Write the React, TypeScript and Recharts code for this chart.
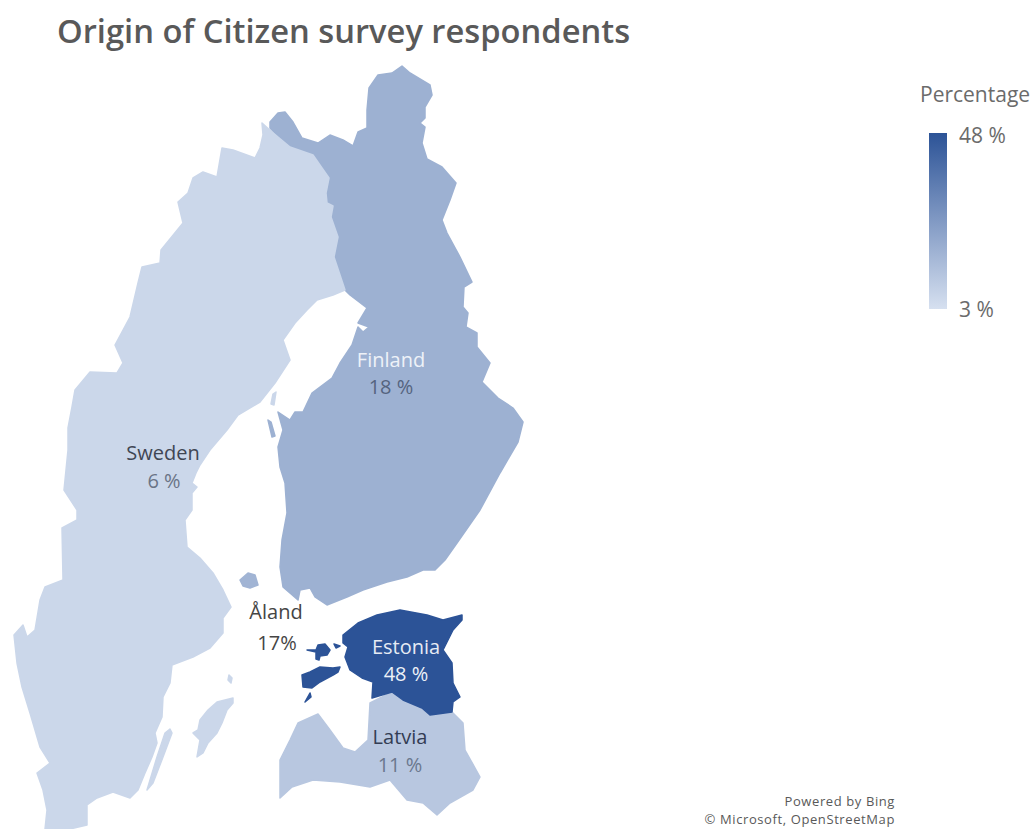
import { ComposedChart, ReferenceArea, Scatter, XAxis, YAxis } from 'recharts'

type Ring = [number, number][]

const WIDTH = 1034
const HEIGHT = 829

// Share of respondents per region, in percent
const swedenShare = 6
const finlandShare = 18
const alandShare = 17
const estoniaShare = 48
const latviaShare = 11
const scaleMin = 3
const scaleMax = 48

const swedenMain: Ring = [
  [262, 123], [272, 132], [290, 147], [313, 155], [322, 168], [329, 178], [326, 193], [327, 203], [333, 206],
  [331, 217], [338, 237], [334, 257], [345, 290], [333, 295], [317, 300], [307, 310], [295, 323], [283, 340],
  [290, 360], [275, 383], [260, 402], [238, 415], [227, 430], [210, 450], [200, 465], [196, 473], [192, 483],
  [197, 487], [192, 493], [192, 510], [185, 520], [187, 547], [200, 558], [213, 573], [223, 590], [231, 607],
  [223, 618], [223, 633], [210, 648], [193, 657], [172, 665], [170, 683], [163, 697], [162, 717], [155, 733],
  [157, 743], [152, 757], [145, 773], [138, 790], [130, 798], [113, 792], [97, 798], [87, 805], [87, 825],
  [70, 829], [45, 829], [47, 810], [43, 790], [37, 773], [50, 763], [40, 747], [30, 713], [22, 687], [17, 663],
  [14, 635], [23, 625], [27, 637], [35, 630], [40, 600], [45, 587], [63, 580], [62, 528], [77, 520], [77, 510],
  [64, 490], [68, 450], [68, 428], [72, 407], [75, 390], [90, 372], [117, 373], [123, 363], [115, 345],
  [130, 317], [138, 283], [142, 267], [160, 263], [161, 250], [183, 223], [178, 202], [188, 193], [193, 178],
  [203, 172], [217, 177], [222, 148], [233, 150], [255, 158], [260, 148], [263, 135],
]
const gotland: Ring = [
  [233, 698], [217, 702], [208, 710], [200, 720], [198, 730], [193, 733], [200, 740], [197, 757], [203, 753],
  [208, 743], [217, 733], [222, 723], [227, 710], [233, 703],
]
const oland: Ring = [[170, 729], [165, 733], [157, 757], [147, 790], [153, 783], [163, 757], [172, 733]]
const gotskaSandon: Ring = [[229, 675], [232, 678], [231, 683], [228, 680]]
const swedenSkerry: Ring = [[276, 392], [274, 405], [271, 404], [273, 394]]

// The western edge runs under Sweden, which is drawn on top
const finlandMain: Ring = [
  [270, 122], [278, 113], [285, 112], [293, 122], [302, 138], [318, 143], [330, 135], [343, 140], [353, 146],
  [358, 132], [367, 128], [367, 110], [369, 88], [378, 75], [392, 73], [402, 66], [410, 73], [430, 85], [432, 95],
  [425, 107], [425, 118], [420, 123], [425, 127], [422, 143], [427, 159], [442, 167], [456, 183], [450, 200],
  [442, 220], [447, 233], [460, 257], [472, 282], [464, 287], [463, 307], [468, 313], [466, 327], [477, 333],
  [477, 347], [490, 363], [482, 382], [498, 398], [513, 408], [523, 422], [518, 442], [500, 473], [480, 510],
  [457, 543], [445, 560], [435, 570], [423, 570], [407, 577], [387, 582], [363, 590], [347, 597], [327, 605],
  [315, 597], [310, 588], [300, 590], [298, 600], [283, 587], [280, 567], [282, 540], [287, 513], [285, 483],
  [280, 467], [278, 447], [283, 430], [278, 412], [290, 420], [295, 412], [303, 412], [312, 393], [332, 378],
  [340, 363], [352, 345], [358, 327], [363, 332], [369, 327], [358, 323], [367, 308], [350, 295], [345, 290],
  [330, 257], [333, 237], [326, 217], [322, 203], [322, 193], [324, 178], [318, 168], [308, 155], [288, 147],
  [270, 128],
]
const quarkenIslets: Ring = [[268, 420], [271, 422], [275, 436], [272, 437]]

const alandIslands: Ring = [[240, 580], [248, 573], [255, 575], [258, 585], [250, 588], [243, 586]]

const estoniaMain: Ring = [
  [343, 635], [358, 623], [377, 615], [400, 610], [427, 615], [443, 620], [462, 615], [462, 620], [453, 630],
  [443, 650], [452, 663], [453, 683], [460, 697], [453, 702], [452, 712], [430, 715], [422, 708], [403, 700],
  [392, 692], [372, 698], [373, 682], [362, 678], [350, 670], [345, 657], [348, 647], [343, 643],
]
const saaremaa: Ring = [
  [302, 675], [310, 672], [320, 667], [333, 668], [340, 667], [338, 672], [333, 675], [320, 682], [312, 688],
  [303, 687],
]
const hiiumaa: Ring = [
  [307, 650], [316, 650], [318, 645], [325, 644], [330, 650], [327, 655], [320, 656], [319, 660], [316, 659],
  [316, 652],
]
const kihnu: Ring = [[305, 702], [310, 693], [311, 697]]
const vormsi: Ring = [[334, 644], [340, 646], [336, 648]]

const latviaMain: Ring = [
  [280, 760], [290, 740], [298, 723], [318, 714], [330, 730], [343, 748], [355, 752], [368, 740], [370, 703],
  [392, 692], [403, 700], [422, 708], [430, 715], [452, 712], [463, 723], [465, 750], [480, 777], [473, 790],
  [450, 803], [437, 815], [423, 803], [407, 800], [390, 780], [370, 787], [340, 782], [313, 780], [292, 787],
  [280, 798],
]

const regionRings: { rings: Ring[]; share: number }[] = [
  { rings: [finlandMain, quarkenIslets], share: finlandShare },
  { rings: [swedenMain, gotland, oland, gotskaSandon, swedenSkerry], share: swedenShare },
  { rings: [alandIslands], share: alandShare },
  { rings: [latviaMain], share: latviaShare },
  { rings: [estoniaMain, saaremaa, hiiumaa, kihnu, vormsi], share: estoniaShare },
]

const mapLabels = [
  { x: 163, y: 452, text: 'Sweden', color: '#3f4654' },
  { x: 164, y: 480, text: `${swedenShare} %`, color: '#6a7486' },
  { x: 391, y: 359, text: 'Finland', color: '#eef2f8' },
  { x: 391, y: 386, text: `${finlandShare} %`, color: '#55647f' },
  { x: 276, y: 611, text: 'Åland', color: '#454545' },
  { x: 277, y: 642, text: `${alandShare}%`, color: '#454545' },
  { x: 406, y: 646, text: 'Estonia', color: '#e6ebf4' },
  { x: 406, y: 673, text: `${estoniaShare} %`, color: '#edf1f7' },
  { x: 400, y: 736, text: 'Latvia', color: '#333d54' },
  { x: 400, y: 764, text: `${latviaShare} %`, color: '#6b788e' },
]

const legendLabels = [
  { x: 920, y: 94, text: 'Percentage' },
  { x: 959, y: 135, text: `${scaleMax} %` },
  { x: 959, y: 309, text: `${scaleMin} %` },
]

const creditLabels = [
  { x: 895, y: 801, text: 'Powered by Bing' },
  { x: 895, y: 819, text: '© Microsoft, OpenStreetMap' },
]

// Linear colour ramp between the two ends of the legend
const rampLow = [214, 224, 240]
const rampHigh = [44, 83, 151]
const colorFor = (share: number) => {
  const t = (share - scaleMin) / (scaleMax - scaleMin)
  const [r, g, b] = rampLow.map((c, i) => Math.round(c + (rampHigh[i] - c) * t))
  return `rgb(${r},${g},${b})`
}

const fontFamily = '"Open Sans", "Noto Sans", sans-serif'

const toPoints = (ring: Ring) => ring.map(([x, y]) => ({ x, y }))

// Scatter hands its scaled points to the line renderer, which fills them as one outline
const fillRing = (color: string) => (props: any) => (
  <polygon
    points={props.points.map((p: any) => `${p.x},${p.y}`).join(' ')}
    fill={color}
    stroke={color}
    strokeWidth={1.5}
    strokeLinejoin="round"
  />
)

const noDot = () => <g />

const MapLabel = (props: any) => (
  <text
    x={props.cx}
    y={props.cy}
    textAnchor="middle"
    dominantBaseline="central"
    fontFamily={fontFamily}
    fontSize={20}
    fill={props.payload.color}
  >
    {props.payload.text}
  </text>
)

const LegendLabel = (props: any) => (
  <text
    x={props.cx}
    y={props.cy}
    dominantBaseline="central"
    fontFamily={fontFamily}
    fontSize={21}
    fill="#6b6b6b"
  >
    {props.payload.text}
  </text>
)

const CreditLabel = (props: any) => (
  <text
    x={props.cx}
    y={props.cy}
    textAnchor="end"
    dominantBaseline="central"
    fontFamily={fontFamily}
    fontSize={13}
    letterSpacing={0.6}
    fill="#595959"
  >
    {props.payload.text}
  </text>
)

export default function App() {
  return (
    <div style={{ position: 'absolute', left: 0, top: 0, width: WIDTH, height: HEIGHT, background: '#fff', overflow: 'hidden' }}>
      <div
        style={{
          position: 'absolute',
          left: 57,
          top: 9,
          lineHeight: '44px',
          fontFamily,
          fontSize: 32.7,
          fontWeight: 600,
          color: '#595959',
          whiteSpace: 'nowrap',
        }}
      >
        Origin of Citizen survey respondents
      </div>
      <ComposedChart width={WIDTH} height={HEIGHT} margin={{ top: 0, right: 0, bottom: 0, left: 0 }}>
        <defs>
          <linearGradient id="shareRamp" x1="0" y1="0" x2="0" y2="1">
            <stop offset="0%" stopColor={colorFor(scaleMax)} />
            <stop offset="100%" stopColor={colorFor(scaleMin)} />
          </linearGradient>
        </defs>
        <XAxis type="number" dataKey="x" domain={[0, WIDTH]} hide />
        <YAxis type="number" dataKey="y" domain={[0, HEIGHT]} reversed hide />
        {regionRings.flatMap(({ rings, share }) =>
          rings.map((ring, i) => (
            <Scatter
              key={`${share}-${i}`}
              data={toPoints(ring)}
              line={fillRing(colorFor(share))}
              shape={noDot}
              isAnimationActive={false}
            />
          )),
        )}
        <ReferenceArea x1={929} x2={947} y1={133} y2={309} fill="url(#shareRamp)" fillOpacity={1} stroke="none" />
        <Scatter data={mapLabels} shape={MapLabel} isAnimationActive={false} />
        <Scatter data={legendLabels} shape={LegendLabel} isAnimationActive={false} />
        <Scatter data={creditLabels} shape={CreditLabel} isAnimationActive={false} />
      </ComposedChart>
    </div>
  )
}
